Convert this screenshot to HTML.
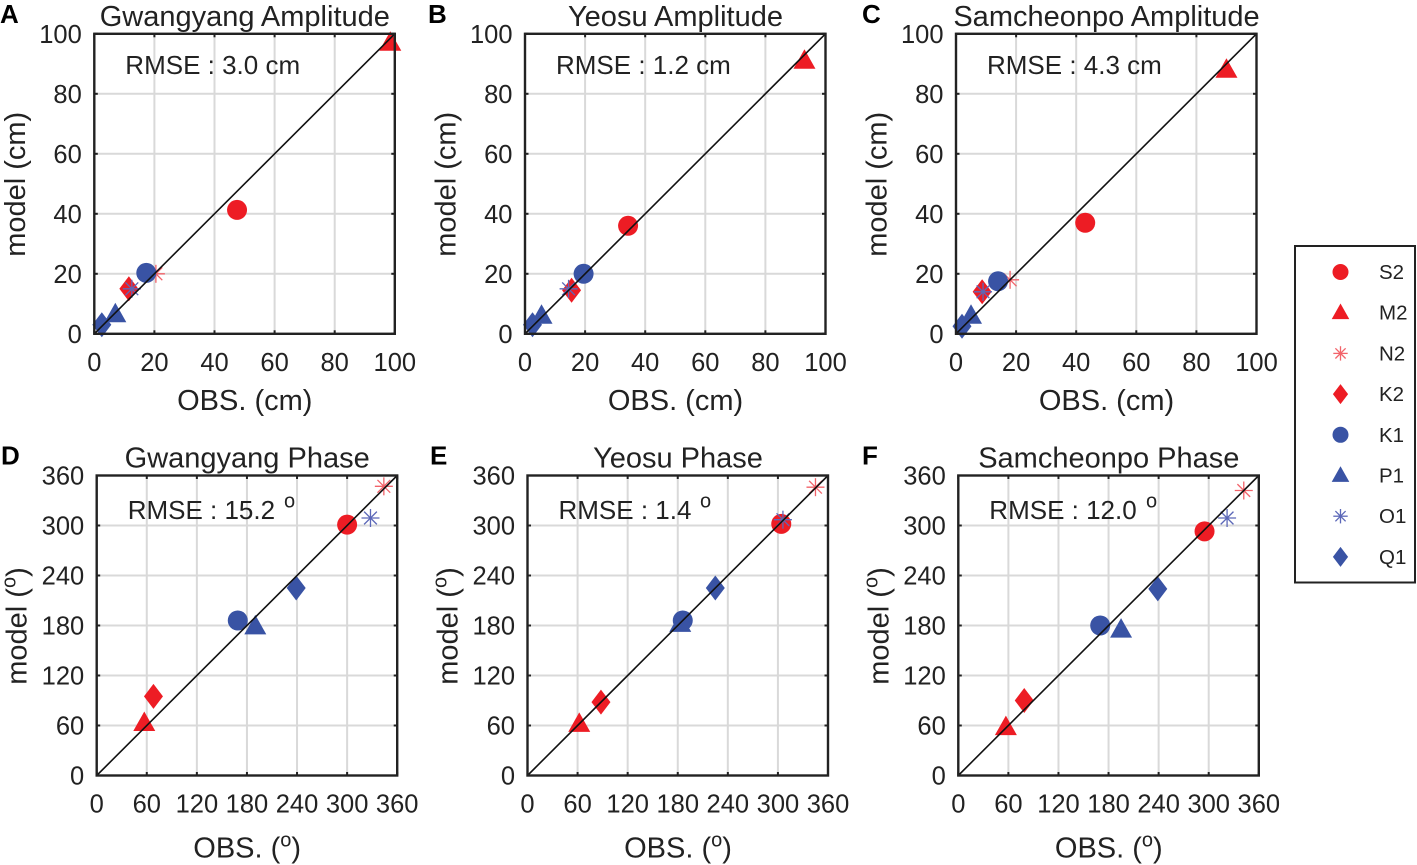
<!DOCTYPE html>
<html lang="en">
<head>
<meta charset="utf-8">
<title>Tidal harmonic comparison</title>
<style>
html,body{margin:0;padding:0;background:#fff;width:1417px;height:865px;overflow:hidden}
svg{display:block;filter:blur(0.35px)}
text{font-family:"Liberation Sans",sans-serif;fill:#222}
</style>
</head>
<body>
<svg id="figure" xmlns="http://www.w3.org/2000/svg" width="1417" height="865" viewBox="0 0 1417 865"></svg>
<script>
const constituents = ['S2','M2','N2','K2','K1','P1','O1','Q1'];
const amplitudeTicks = [0,20,40,60,80,100];
const phaseTicks = [0,60,120,180,240,300,360];

const gwangyangAmpObs = [47.5,98.5,20.5,11.5,17.3,7,12.5,2.5];
const gwangyangAmpModel = [41.3,97,20,15,20.3,6.5,15,3];
const yeosuAmpObs = [34.3,93,19.5,15.5,19.5,5.5,14.5,2.5];
const yeosuAmpModel = [36,91,20,14.5,20,6,15,3];
const samcheonpoAmpObs = [43,90,18,8.7,14,5,9,2];
const samcheonpoAmpModel = [37,88,18,14,17.5,6,14,2.5];
const gwangyangPhaseObs = [300,57,344,68,169,190,328,239];
const gwangyangPhaseModel = [301,63,347,95,186,179,309,225];
const yeosuPhaseObs = [304,62,345,88,186,183,306,225];
const yeosuPhaseModel = [302,62,346,88,186,182,307,225];
const samcheonpoPhaseObs = [295,57,342,79,170,195,322,239];
const samcheonpoPhaseModel = [293,58,342,90,180,175,309,224];

const NS = 'http://www.w3.org/2000/svg';
const fig = document.getElementById('figure');
const RED = '#ed1c24', BLUE = '#3953a4', LRED = '#f2636a', LBLUE = '#5c68b8';
const markerStyle = {
  S2:['circle',RED], M2:['triangle',RED], N2:['star',LRED], K2:['diamond',RED],
  K1:['circle',BLUE], P1:['triangle',BLUE], O1:['star',LBLUE], Q1:['diamond',BLUE]
};

function make(tag, attrs, parent){
  const el = document.createElementNS(NS, tag);
  for (const k in attrs) el.setAttribute(k, attrs[k]);
  (parent || fig).appendChild(el);
  return el;
}

function label(parent, str, x, y, size, anchor, extra){
  const t = make('text', Object.assign({x:x, y:y, 'font-size':size, 'text-anchor':anchor}, extra || {}), parent);
  t.textContent = str;
  return t;
}

function drawMarker(parent, name, cx, cy, scale){
  const s = scale || 1;
  const kind = markerStyle[name][0], color = markerStyle[name][1];
  const g = make('g', {}, parent);
  
  
  if (kind === 'circle') {
    make('circle', {cx:cx, cy:cy, r:10*s, fill:color}, g);
  } else if (kind === 'triangle') {
    make('polygon', {points:[cx, cy-11.5*s, cx+11*s, cy+8*s, cx-11*s, cy+8*s].join(' '), fill:color}, g);
  } else if (kind === 'diamond') {
    make('polygon', {points:[cx, cy-12.5*s, cx+9.5*s, cy, cx, cy+12.5*s, cx-9.5*s, cy].join(' '), fill:color}, g);
  } else {
    const r = 9*s, d = r*0.71;
    [[r,0],[0,r],[d,d],[d,-d]].forEach(function(v){
      make('line', {x1:cx-v[0], y1:cy-v[1], x2:cx+v[0], y2:cy+v[1], stroke:color, 'stroke-width':1.3}, g);
    });
  }
}

function drawPanel(cfg){
  const panel = make('g', {});
  
  
  const L = cfg.left, T = cfg.top, W = 300.5, H = 300;
  const max = cfg.ticks[cfg.ticks.length-1];
  const sx = function(v){ return L + v / max * W; };
  const sy = function(v){ return T + H - v / max * H; };

  const grid = make('g', {stroke:'#d9d9d9', 'stroke-width':2}, panel);
  
  
  cfg.ticks.forEach(function(v){
    make('line', {x1:sx(v), y1:T, x2:sx(v), y2:T+H}, grid);
    make('line', {x1:L, y1:sy(v), x2:L+W, y2:sy(v)}, grid);
  });

  const points = make('g', {}, panel);
  
  
  constituents.forEach(function(name, i){
    drawMarker(points, name, sx(cfg.obs[i]), sy(cfg.model[i]));
  });

  const diag = make('line', {x1:sx(0), y1:sy(0), x2:sx(max), y2:sy(max), stroke:'#111', 'stroke-width':1.6}, panel);
  
  

  const frame = make('rect', {x:L, y:T, width:W, height:H, fill:'none', stroke:'#222', 'stroke-width':2.4}, panel);
  
  

  const tickGroup = make('g', {stroke:'#222', 'stroke-width':2}, panel);
  
  
  cfg.ticks.forEach(function(v){
    make('line', {x1:sx(v), y1:T+H, x2:sx(v), y2:T+H-3.5}, tickGroup);
    make('line', {x1:sx(v), y1:T, x2:sx(v), y2:T+3.5}, tickGroup);
    make('line', {x1:L, y1:sy(v), x2:L+3.5, y2:sy(v)}, tickGroup);
    make('line', {x1:L+W, y1:sy(v), x2:L+W-3.5, y2:sy(v)}, tickGroup);
  });

  cfg.ticks.forEach(function(v){
    const xt = label(panel, String(v), sx(v), T+H+cfg.xTickDy, 25.5, 'middle');
    
    
    const yt = label(panel, String(v), L-12.5, sy(v)+9, 25.5, 'end');
    
    
  });

  const title = label(panel, cfg.title, L+150.5, T-8, 29, 'middle');
  
  

  const letter = label(panel, cfg.letter, cfg.letterX, T-11, 26, 'start', {'font-weight':'bold', style:'fill:#000'});
  
  

  const rmse = label(panel, cfg.rmse, L+31, T+40 + (cfg.phase ? 3.5 : 0), 26, 'start');
  
  
  if (cfg.phase) {
    const deg = label(panel, 'o', cfg.degX, T+32, 20, 'start');
    
    
  }

  const xl = make('text', {x:L+150.5, y:T+H+(cfg.phase ? 82 : 76), 'font-size':29, 'text-anchor':'middle'}, panel);
  
  
  const yl = make('text', {x:0, y:0, 'font-size':29, 'text-anchor':'middle',
    transform:'translate(' + (L-(cfg.phase ? 70 : 69.5)) + ' ' + (T+150.5) + ') rotate(-90)'}, panel);
  
  
  if (cfg.phase) {
    axisTitle(xl, 'OBS. (');
    axisTitle(yl, 'model (');
  } else {
    xl.textContent = 'OBS. (cm)';
    yl.textContent = 'model (cm)';
  }
}

function axisTitle(el, head){
  el.appendChild(document.createTextNode(head));
  const sup = document.createElementNS(NS, 'tspan');
  sup.setAttribute('dy', '-11');
  sup.setAttribute('font-size', '20');
  sup.textContent = 'o';
  el.appendChild(sup);
  const close = document.createElementNS(NS, 'tspan');
  close.setAttribute('dy', '11');
  close.textContent = ')';
  el.appendChild(close);
}

drawPanel({id:'gwangyang-amplitude', letter:'A', letterX:0, title:'Gwangyang Amplitude', rmse:'RMSE : 3.0 cm', left:94.3, top:33.8, ticks:amplitudeTicks, obs:gwangyangAmpObs, model:gwangyangAmpModel, xTickDy:37, phase:false});
drawPanel({id:'yeosu-amplitude', letter:'B', letterX:428, title:'Yeosu Amplitude', rmse:'RMSE : 1.2 cm', left:525, top:33.8, ticks:amplitudeTicks, obs:yeosuAmpObs, model:yeosuAmpModel, xTickDy:37, phase:false});
drawPanel({id:'samcheonpo-amplitude', letter:'C', letterX:862, title:'Samcheonpo Amplitude', rmse:'RMSE : 4.3 cm', left:956, top:33.8, ticks:amplitudeTicks, obs:samcheonpoAmpObs, model:samcheonpoAmpModel, xTickDy:37, phase:false});
drawPanel({id:'gwangyang-phase', letter:'D', letterX:1, title:'Gwangyang Phase', rmse:'RMSE : 15.2', degX:284, left:96.7, top:475.5, ticks:phaseTicks, obs:gwangyangPhaseObs, model:gwangyangPhaseModel, xTickDy:37, phase:true});
drawPanel({id:'yeosu-phase', letter:'E', letterX:430, title:'Yeosu Phase', rmse:'RMSE : 1.4', degX:700, left:527.5, top:475.5, ticks:phaseTicks, obs:yeosuPhaseObs, model:yeosuPhaseModel, xTickDy:37, phase:true});
drawPanel({id:'samcheonpo-phase', letter:'F', letterX:862, title:'Samcheonpo Phase', rmse:'RMSE : 12.0', degX:1146, left:958.3, top:475.5, ticks:phaseTicks, obs:samcheonpoPhaseObs, model:samcheonpoPhaseModel, xTickDy:37, phase:true});

const legend = make('g', {});


const legendBox = make('rect', {x:1295, y:246, width:120, height:336.5, fill:'#fff', stroke:'#222', 'stroke-width':2}, legend);


constituents.forEach(function(name, i){
  const y = 272 + i * 40.7;
  drawMarker(legend, name, 1340.5, y, 0.8);
  const t = label(legend, name, 1379, y + 7, 20.5, 'start');
  
  
});
</script>
</body>
</html>
